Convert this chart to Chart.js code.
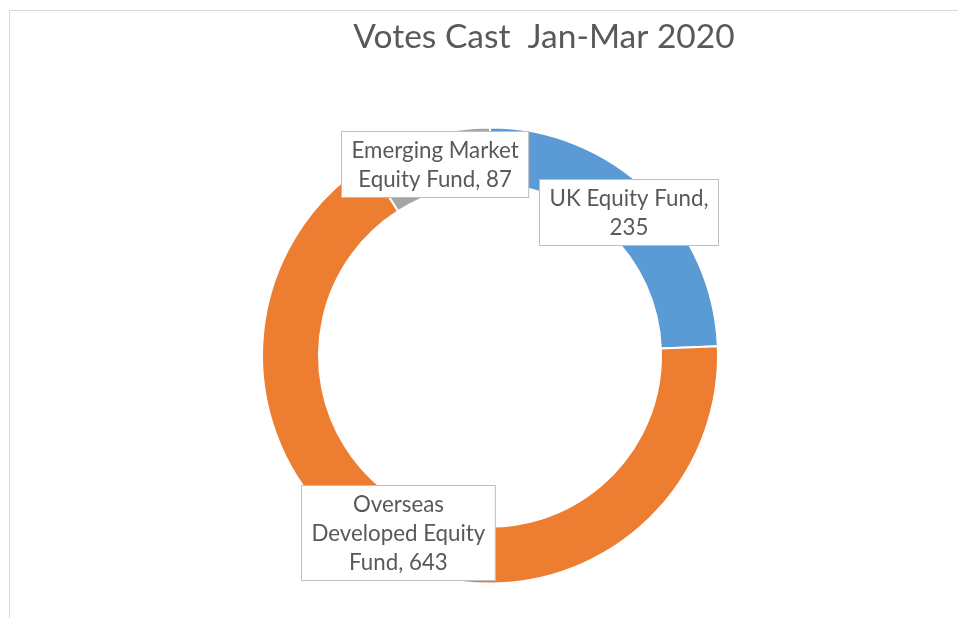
<!DOCTYPE html>
<html>
<head>
<meta charset="utf-8">
<title>Votes Cast</title>
<script src="https://cdn.jsdelivr.net/npm/chart.js@4/dist/chart.umd.min.js"></script>
<style>
    html, body { margin: 0; padding: 0; background: #fff; width: 958px; height: 618px; overflow: hidden; }
    #frame {
        position: absolute; left: 9px; top: 10px; width: 1100px; height: 700px;
        border-left: 1px solid #d9d9d9; border-top: 1px solid #d9d9d9;
    }
    #votesChart { position: absolute; left: 0; top: 0; }
</style>
</head>
<body>
<div id="frame"><canvas id="votesChart" width="1068" height="607"></canvas></div>
<script>
// fund names and votes cast, in drawing order (clockwise from 12 o'clock)
const funds = ['UK Equity Fund', 'Overseas Developed Equity Fund', 'Emerging Market Equity Fund'];
const votes = [235, 643, 87];
const fundColors = ['#5B9BD5', '#ED7D31', '#A5A5A5'];
const chartTitle = 'Votes Cast  Jan-Mar 2020';

const FONT = 'Lato, "Open Sans", sans-serif';
const TEXT_COLOR = '#595959';

// wrap "name, value" into lines no wider than maxW
function wrapLabel(ctx, text, maxW) {
    const words = text.split(' ');
    const lines = [];
    let cur = '';
    words.forEach(w => {
        const test = cur ? cur + ' ' + w : w;
        if (cur && ctx.measureText(test).width > maxW) {
            lines.push(cur);
            cur = w;
        } else {
            cur = test;
        }
    });
    if (cur) lines.push(cur);
    return lines;
}

// title centred on the whole frame (the plot sits left of centre)
const frameTitle = {
    id: 'frameTitle',
    afterDraw(chart) {
        const ctx = chart.ctx;
        ctx.save();
        ctx.font = '33.5px ' + FONT;
        ctx.fillStyle = TEXT_COLOR;
        ctx.textAlign = 'center';
        ctx.textBaseline = 'alphabetic';
        ctx.fillText(chartTitle, chart.width / 2, 36.5);
        ctx.restore();
    }
};

// boxed data labels, centred on each slice at mid-ring
const boxLabels = {
    id: 'boxLabels',
    afterDatasetsDraw(chart) {
        const ctx = chart.ctx;
        const meta = chart.getDatasetMeta(0);
        const lineH = 29, padX = 10, padY = 4;
        ctx.save();
        ctx.font = '22.3px ' + FONT;
        ctx.textAlign = 'center';
        ctx.textBaseline = 'middle';
        meta.data.forEach((arc, i) => {
            const { x, y } = arc.tooltipPosition();
            const lines = wrapLabel(ctx, funds[i] + ', ' + votes[i], 178);
            const w = Math.max(...lines.map(l => ctx.measureText(l).width)) + padX * 2;
            const h = lines.length * lineH + padY * 2;
            const left = Math.round(x - w / 2) + 0.5;
            const top = Math.round(y - h / 2) + 0.5;
            ctx.fillStyle = '#fff';
            ctx.fillRect(left, top, w, h);
            ctx.strokeStyle = '#bfbfbf';
            ctx.lineWidth = 1;
            ctx.strokeRect(left, top, w, h);
            ctx.fillStyle = TEXT_COLOR;
            lines.forEach((l, k) => {
                ctx.fillText(l, left + w / 2, top + padY + lineH * k + lineH / 2 + 1);
            });
        });
        ctx.restore();
    }
};

new Chart(document.getElementById('votesChart'), {
    type: 'doughnut',
    data: {
        labels: funds,
        datasets: [{
            data: votes,
            backgroundColor: fundColors,
            borderColor: '#fff',
            borderWidth: 2,
            hoverOffset: 0
        }]
    },
    options: {
        responsive: false,
        animation: false,
        cutout: '75%',
        layout: { padding: { left: 0, right: 108, top: 115.5, bottom: 33.5 } },
        plugins: {
            legend: { display: false },
            tooltip: { enabled: false },
            title: { display: false }
        }
    },
    plugins: [boxLabels, frameTitle]
});
</script>
</body>
</html>
